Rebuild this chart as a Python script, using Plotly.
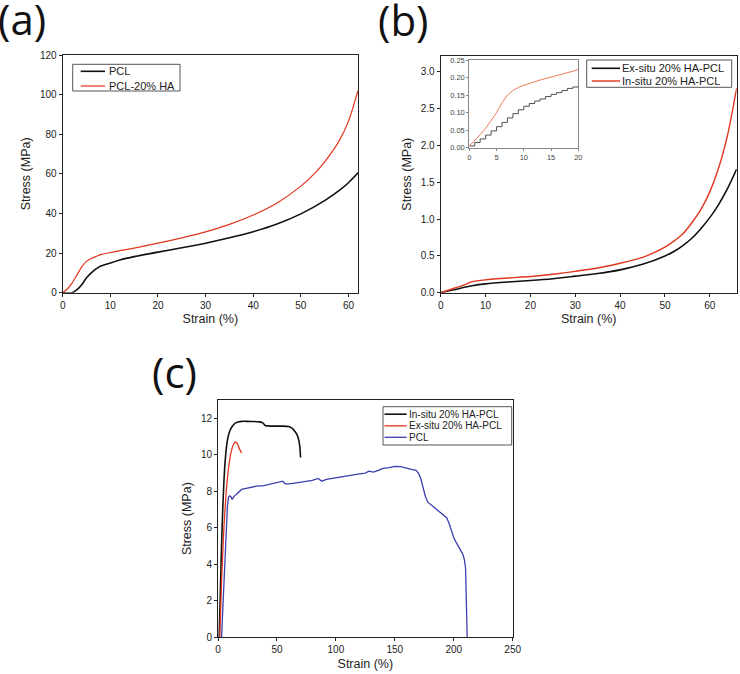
import plotly.graph_objects as go

W, H = 740, 674

# ---------- Panel (a) data ----------
a_names = ["PCL", "PCL-20% HA"]
a_strain_pcl = [0, 2, 3, 4, 5, 6, 7, 8, 10, 12, 15, 20, 25, 30, 35, 40, 45, 50, 55, 58, 60, 62]
a_stress_pcl = [0, 0, 1.5, 4, 7.5, 10, 12, 13.5, 15, 16.5, 18.2, 20.5, 22.7, 25, 27.7, 30.8, 34.7, 39.8, 46.5, 51.5, 55.5, 60.5]
a_strain_ha = [0, 1, 2, 3, 4, 5, 6, 7, 8, 10, 12, 15, 20, 25, 30, 35, 40, 45, 50, 53, 55, 58, 60, 62]
a_stress_ha = [0, 2, 5, 9, 13, 15.8, 17.3, 18.3, 19.2, 20.3, 21.2, 22.5, 25, 27.7, 30.7, 34.5, 39.2, 45.3, 53.8, 60.5, 66, 76.5, 86.5, 102]

# ---------- Panel (b) data ----------
b_names = ["Ex-situ 20% HA-PCL", "In-situ 20% HA-PCL"]
b_strain_ex = [0, 3, 5, 7, 10, 15, 20, 25, 30, 35, 40, 45, 50, 52, 54, 56, 58, 60, 62, 64, 66]
b_stress_ex = [0, 0.04, 0.07, 0.095, 0.12, 0.145, 0.165, 0.19, 0.225, 0.26, 0.31, 0.385, 0.5, 0.56, 0.64, 0.74, 0.87, 1.02, 1.2, 1.42, 1.68]
b_strain_in = [0, 3, 5, 7, 10, 15, 20, 25, 30, 35, 40, 45, 50, 52, 54, 56, 58, 60, 62, 64, 66]
b_stress_in = [0, 0.06, 0.1, 0.15, 0.175, 0.2, 0.22, 0.25, 0.29, 0.335, 0.4, 0.48, 0.62, 0.7, 0.8, 0.95, 1.13, 1.37, 1.7, 2.15, 2.78]

# inset (first 20 % strain)
i_strain = [0, 1, 2, 3, 4, 5, 6, 7, 8, 9, 10, 11, 12, 13, 14, 15, 16, 17, 18, 19, 20]
i_stress_ex = [0.005, 0.015, 0.025, 0.036, 0.048, 0.06, 0.072, 0.085, 0.097, 0.108, 0.118, 0.126, 0.133, 0.139, 0.146, 0.152, 0.157, 0.163, 0.169, 0.173, 0.176]
i_stress_in = [0.005, 0.02, 0.037, 0.055, 0.077, 0.1, 0.128, 0.15, 0.163, 0.172, 0.178, 0.184, 0.188, 0.193, 0.197, 0.2, 0.204, 0.208, 0.213, 0.218, 0.223]

# ---------- Panel (c) data ----------
c_names = ["In-situ 20% HA-PCL", "Ex-situ 20% HA-PCL", "PCL"]
c_strain_in = [1, 2, 3, 4, 5, 6, 8, 10, 12, 15, 20, 25, 30, 35, 38, 40, 45, 50, 55, 60, 63, 65, 67, 68.5, 69.5, 70]
c_stress_in = [0, 2.5, 5, 7, 8.5, 9.6, 10.8, 11.3, 11.55, 11.75, 11.83, 11.83, 11.82, 11.8, 11.75, 11.6, 11.57, 11.57, 11.57, 11.55, 11.45, 11.3, 11.1, 10.8, 10.4, 9.85]
c_strain_ex = [1.5, 3, 5, 7, 9, 11, 13, 15, 16.5, 18, 20]
c_stress_ex = [0, 3, 6, 8, 9.3, 10.1, 10.55, 10.7, 10.6, 10.35, 10.1]
c_strain_pcl = [3, 4, 5, 6, 7, 8, 9, 10, 11, 12, 13, 14, 16, 18, 20, 23, 26, 30, 34, 38, 42, 46, 50, 53, 55, 57, 60, 65, 70, 75, 80, 85, 88, 92, 96, 100, 105, 110, 115, 120, 125, 128, 132, 136, 140, 145, 150, 155, 160, 164, 168, 170, 172, 174, 176, 178, 180, 183, 187, 191, 194, 196, 198, 200, 202, 204, 206, 208, 209, 210, 210.5, 211, 211.4]
c_stress_pcl = [0, 1.5, 3.2, 5, 6.3, 7.2, 7.7, 7.75, 7.7, 7.55, 7.65, 7.75, 7.85, 8.0, 8.1, 8.15, 8.2, 8.25, 8.3, 8.3, 8.35, 8.4, 8.45, 8.5, 8.55, 8.4, 8.4, 8.45, 8.5, 8.55, 8.6, 8.7, 8.55, 8.65, 8.7, 8.75, 8.8, 8.85, 8.9, 8.95, 9.0, 9.1, 9.05, 9.15, 9.25, 9.3, 9.36, 9.35, 9.25, 9.2, 9.15, 9.0, 8.7, 8.2, 7.7, 7.4, 7.3, 7.15, 6.95, 6.75, 6.55, 6.25, 5.8, 5.45, 5.2, 5.0, 4.75, 4.5, 4.25, 3.8, 2.0, 0.5, 0]

BLACK = "#111111"
RED = "#e2351d"
BLUE = "#3b3fae"
FONT = "Liberation Sans, Arial, sans-serif"

fig = go.Figure()

def line(x, y, color, width, name, xa, ya, shape="spline", smoothing=0.6):
    ln = dict(color=color, width=width, shape=shape)
    if shape == "spline":
        ln["smoothing"] = smoothing
    fig.add_trace(go.Scatter(x=x, y=y, mode="lines", name=name, line=ln,
                             xaxis=xa, yaxis=ya, showlegend=False, hoverinfo="skip"))

# (a)
line(a_strain_pcl, a_stress_pcl, BLACK, 1.6, a_names[0], "x", "y")
line(a_strain_ha, a_stress_ha, RED, 1.2, a_names[1], "x", "y")
# (b)
line(b_strain_ex, b_stress_ex, BLACK, 1.6, b_names[0], "x2", "y2")
line(b_strain_in, b_stress_in, RED, 1.4, b_names[1], "x2", "y2")
# inset
line(i_strain, i_stress_ex, "#505050", 1.0, b_names[0], "x3", "y3", shape="hv")
line(i_strain, i_stress_in, "#ee7a5a", 1.0, b_names[1], "x3", "y3", shape="linear")
# (c)
line(c_strain_in, c_stress_in, BLACK, 1.6, c_names[0], "x4", "y4", smoothing=0.4)
line(c_strain_ex, c_stress_ex, RED, 1.3, c_names[1], "x4", "y4", smoothing=0.4)
line(c_strain_pcl, c_stress_pcl, BLUE, 1.3, c_names[2], "x4", "y4", shape="linear")

def px_x(p):
    return p / W

def px_y(p):
    return 1 - p / H

axis_common = dict(showline=True, linecolor="#222222", linewidth=1, mirror=True,
                   ticks="outside", ticklen=3, tickcolor="#222222", showgrid=False,
                   zeroline=False, tickfont=dict(family=FONT, size=10, color="#222222"),
                   title_font=dict(family=FONT, size=12.5, color="#222222"))

inset_axis = dict(showline=True, linecolor="#888888", linewidth=1, mirror=True,
                  ticks="outside", ticklen=2, tickcolor="#888888", showgrid=False,
                  zeroline=False, tickfont=dict(family=FONT, size=7.5, color="#444444"))

fig.update_layout(
    width=W, height=H,
    margin=dict(l=0, r=0, t=0, b=0, autoexpand=False),
    paper_bgcolor="white", plot_bgcolor="white",
    font=dict(family=FONT, color="#222222"),
    showlegend=False,
    xaxis=dict(domain=[px_x(62.7), px_x(358)], range=[0, 62], dtick=10, automargin=False,
               title=dict(text="Strain (%)", standoff=4), anchor="y", **axis_common),
    yaxis=dict(domain=[px_y(292.7), px_y(55)], range=[0, 120], dtick=20, automargin=False,
               title=dict(text="Stress (MPa)", standoff=6), anchor="x", **axis_common),
    xaxis2=dict(domain=[px_x(440.7), px_x(736.7)], range=[0, 66], dtick=10, automargin=False,
                title=dict(text="Strain (%)", standoff=4), anchor="y2", **axis_common),
    yaxis2=dict(domain=[px_y(292.7), px_y(55.7)], range=[0, 3.22], dtick=0.5, tickformat=".1f",
                automargin=False,
                title=dict(text="Stress (MPa)", standoff=6), anchor="x2", **axis_common),
    xaxis3=dict(domain=[px_x(469.3), px_x(578.3)], range=[0, 20], dtick=5, anchor="y3",
                automargin=False, **inset_axis),
    yaxis3=dict(domain=[px_y(147.7), px_y(60)], range=[0, 0.25], dtick=0.05, tickformat=".2f",
                automargin=False, anchor="x3", **inset_axis),
    xaxis4=dict(domain=[px_x(218), px_x(512.7)], range=[0, 250], dtick=50, automargin=False,
                title=dict(text="Strain (%)", standoff=4), anchor="y4", **axis_common),
    yaxis4=dict(domain=[px_y(637.3), px_y(400)], range=[0, 13], tickvals=[0, 2, 4, 6, 8, 10, 12],
                automargin=False,
                title=dict(text="Stress (MPa)", standoff=6), anchor="x4", **axis_common),
)

# ---- legends (box, line samples and labels) ----
def legend_box(box, rows, sample, text_x, names, colors, widths, size):
    x0, y0, x1, y1 = box
    fig.add_shape(type="rect", xref="paper", yref="paper",
                  x0=px_x(x0), x1=px_x(x1), y0=px_y(y1), y1=px_y(y0),
                  line=dict(color="#555555", width=1), fillcolor="white", layer="above")
    for ry, nm, col, wd in zip(rows, names, colors, widths):
        fig.add_shape(type="line", xref="paper", yref="paper",
                      x0=px_x(sample[0]), x1=px_x(sample[1]), y0=px_y(ry), y1=px_y(ry),
                      line=dict(color=col, width=wd), layer="above")
        fig.add_annotation(text=nm, xref="paper", yref="paper", x=px_x(text_x), y=px_y(ry),
                           xanchor="left", yanchor="middle", showarrow=False,
                           font=dict(family=FONT, size=size, color="#222222"),
                           borderpad=0, xshift=-1)

legend_box((72.7, 64.3, 180, 91), [71.3, 86.0], (80.7, 105), 109.3,
           a_names, [BLACK, RED], [1.6, 1.2], 11)
legend_box((586.7, 60, 731.7, 87.3), [68.3, 81.0], (591.7, 620), 621.7,
           b_names, [BLACK, RED], [1.6, 1.4], 11)
legend_box((383, 406.7, 511.7, 445), [414.2, 425.8, 437.3], (384.5, 406.7), 409.3,
           c_names, [BLACK, RED, BLUE], [1.6, 1.3, 1.3], 10)

label_font = dict(family="Open Sans, sans-serif", size=42, color="#111111")
for txt, x, y in [("(a)", -3, 18.5), ("(b)", 377, 19.5), ("(c)", 151, 371.5)]:
    fig.add_annotation(text=txt, x=px_x(x), y=px_y(y), xref="paper", yref="paper",
                       xanchor="left", yanchor="middle", showarrow=False, font=label_font,
                       borderpad=0)

fig.write_html("out.html", config={"displayModeBar": False},
               post_script="document.body.style.margin='0';document.body.style.padding='0';")
